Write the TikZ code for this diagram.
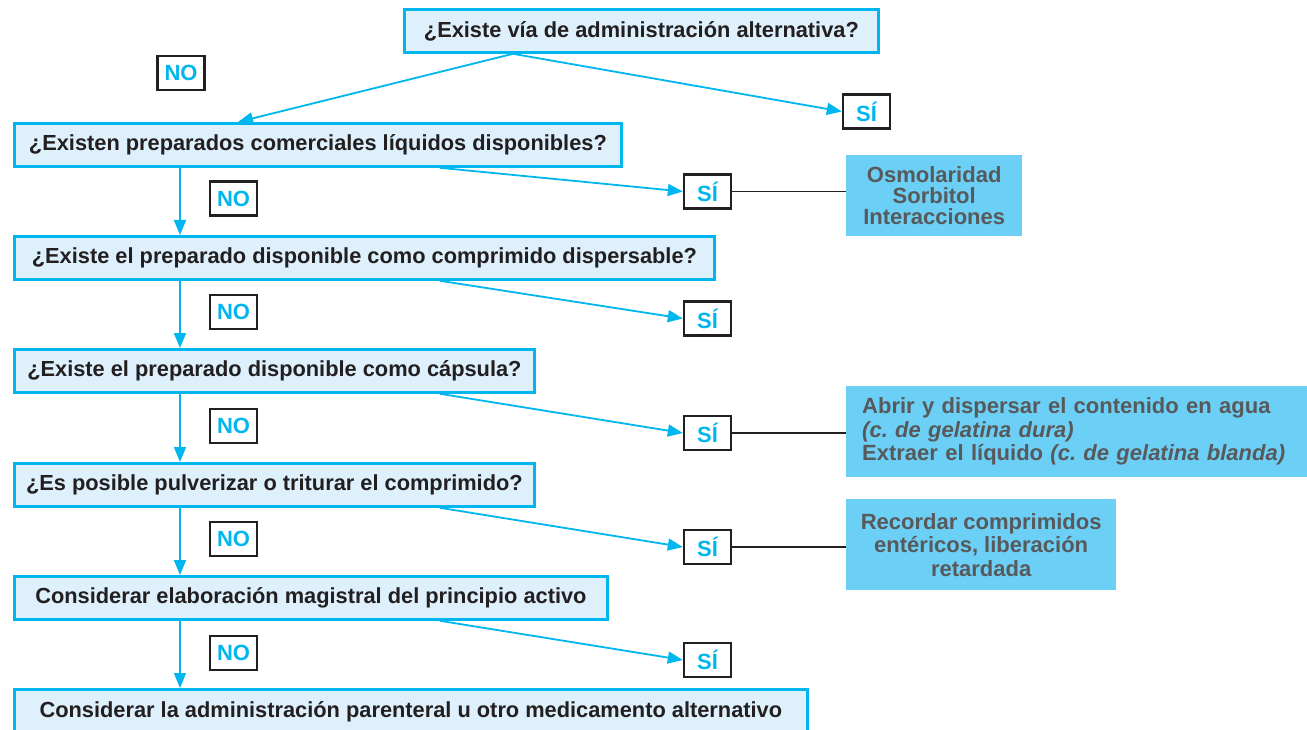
\documentclass[tikz,border=0pt]{standalone}
\usepackage{fontspec}
\setmainfont{Liberation Sans}
\usetikzlibrary{arrows.meta}
\definecolor{cyanl}{HTML}{00B6EE}
\definecolor{boxfill}{HTML}{DDF0FB}
\definecolor{infofill}{HTML}{6CCFF6}
\definecolor{infotext}{HTML}{58595B}
\definecolor{darkline}{HTML}{231F20}
\definecolor{maintext}{HTML}{231F20}
\begin{document}
\begin{tikzpicture}[x=1pt,y=-1pt,
  mainbox/.style={draw=cyanl, line width=2.8pt, fill=boxfill, inner sep=0pt,
    minimum height=43pt, font=\fontsize{21.8}{24}\selectfont\bfseries, text=maintext, anchor=north west},
  ansbox/.style={draw=darkline, line width=2.4pt, fill=white, inner sep=0pt,
    minimum width=47pt, minimum height=34pt, font=\fontsize{22}{24}\selectfont\bfseries, text=cyanl},
  infobox/.style={fill=infofill, inner sep=0pt, anchor=north west, text=infotext},
  flow/.style={draw=cyanl, line width=1.8pt, -{Triangle[length=15pt,width=12pt]}},
  link/.style={draw=darkline, line width=1.5pt}
]
\useasboundingbox (0,0) rectangle (1307,730);
% main boxes
\node[mainbox, minimum width=474pt] (b1) at (403,8) {¿Existe vía de administración alternativa?};
\node[mainbox, minimum width=607pt] (b2) at (13,122) {¿Existen preparados comerciales líquidos disponibles?};
\node[mainbox, minimum width=700pt] (b3) at (13,235) {¿Existe el preparado disponible como comprimido dispersable?};
\node[mainbox, minimum width=520pt] (b4) at (13,348) {¿Existe el preparado disponible como cápsula?};
\node[mainbox, minimum width=520pt] (b5) at (13,462) {¿Es posible pulverizar o triturar el comprimido?};
\node[mainbox, minimum width=593pt] (b6) at (13,575) {Considerar elaboración magistral del principio activo};
\node[mainbox, minimum width=793pt, minimum height=44pt] (b7) at (13,688) {Considerar la administración parenteral u otro medicamento alternativo};
% answer boxes
\node[ansbox] (no1) at (181,73) {NO};
\node[ansbox] (si1) at (866.5,111.5) {SÍ};
\node[ansbox] (no2) at (233.5,198.5) {NO};
\node[ansbox] (si2) at (707.5,191.5) {SÍ};
\node[ansbox] (no3) at (233.5,312) {NO};
\node[ansbox] (si3) at (707.5,318.5) {SÍ};
\node[ansbox] (no4) at (233.5,426) {NO};
\node[ansbox] (si4) at (707.5,433) {SÍ};
\node[ansbox] (no5) at (233.5,539) {NO};
\node[ansbox] (si5) at (707.5,547) {SÍ};
\node[ansbox] (no6) at (233.5,653) {NO};
\node[ansbox] (si6) at (707.5,660) {SÍ};
% info boxes
\node[infobox, minimum width=176pt, minimum height=81pt, align=center,
  font=\fontsize{22}{21}\selectfont\bfseries] (i1) at (846,155)
  {Osmolaridad\\Sorbitol\\Interacciones};
\node[infobox, minimum width=461pt, minimum height=91pt, align=left, text width=429pt, inner xsep=16pt,
  font=\fontsize{22}{23.5}\selectfont\bfseries] (i2) at (846,386)
  {Abrir y dispersar el contenido en agua\\\textit{(c.\ de gelatina dura)}\\Extraer el líquido \textit{(c.\ de gelatina blanda)}};
\node[infobox, minimum width=270pt, minimum height=91pt, align=center,
  font=\fontsize{22}{23.5}\selectfont\bfseries] (i3) at (846,499)
  {Recordar comprimidos\\entéricos, liberación\\retardada};
% arrows
\draw[flow] ([xshift=110pt]b1.south west) -- ([xshift=225pt]b2.north west);
\draw[flow] ([xshift=110pt]b1.south west) -- (si1.west);
\foreach \a/\b/\s in {b2/b3/si2, b3/b4/si3, b4/b5/si4, b5/b6/si5, b6/b7/si6}{
  \draw[flow] ([xshift=167pt]\a.south west) -- ([xshift=167pt]\b.north west);
  \draw[flow] ([xshift=427pt]\a.south west) -- (\s.west);
}
% links
\draw[link] (si2.east) -- (si2.east -| i1.west);
\draw[link] (si4.east) -- (si4.east -| i2.west);
\draw[link] (si5.east) -- (si5.east -| i3.west);
\end{tikzpicture}
\end{document}
